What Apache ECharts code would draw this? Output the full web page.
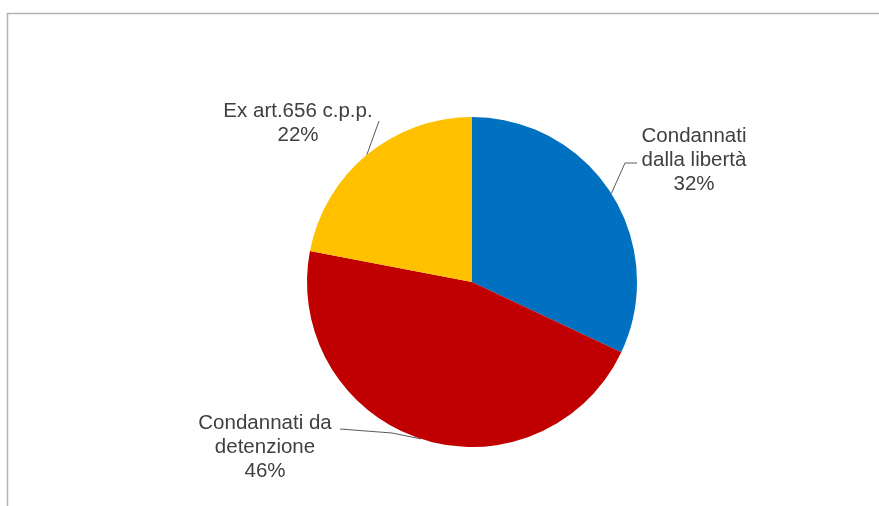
<!DOCTYPE html>
<html>
<head>
<meta charset="utf-8">
<script src="https://cdn.jsdelivr.net/npm/echarts@6/dist/echarts.min.js"></script>
<style>
  html, body { margin: 0; padding: 0; background: #fff; }
  #chart { width: 879px; height: 506px; }
</style>
</head>
<body>
<div id="chart"></div>
<script>
// dati del grafico
var categorie = ['Condannati\ndalla libertà', 'Condannati da\ndetenzione', 'Ex art.656 c.p.p.'];
var percentuali = [32, 46, 22];
var colori = ['#0070C0', '#C00000', '#FFC000'];

// layout: centro delle etichette e punti delle linee guida
var posEtichette = [[694, 160], [265, 447], [298, 123]];
var guide = [
    [[625, 163], [637, 163]],
    [[392, 433], [340, 429]],
    [[379, 121], [379, 121]]
];

var myChart = echarts.init(document.getElementById('chart'));

var dati = categorie.map(function (c, i) {
    return {name: c, value: percentuali[i], itemStyle: {color: colori[i]}};
});

var option = {
    backgroundColor: '#fff',
    animation: false,
    graphic: [
        // cornice (solo bordo superiore e sinistro visibili)
        {type: 'line', shape: {x1: 7, y1: 13.5, x2: 879, y2: 13.5}, style: {stroke: '#b3b3b3', lineWidth: 1.5}},
        {type: 'line', shape: {x1: 7.5, y1: 13, x2: 7.5, y2: 506}, style: {stroke: '#b3b3b3', lineWidth: 1.5}}
    ],
    series: [
        {
            type: 'pie',
            center: [472, 282],
            radius: 165,
            startAngle: 90,
            clockwise: true,
            data: dati,
            label: {
                show: true,
                formatter: function (p) {
                    return p.name + '\n' + p.percent.toFixed(0) + '%';
                },
                color: '#404040',
                fontFamily: 'Liberation Sans, Arial, sans-serif',
                fontSize: 20.5,
                lineHeight: 24,
                align: 'center'
            },
            labelLine: {
                show: true,
                lineStyle: {color: '#595959', width: 1}
            },
            labelLayout: function (params) {
                var i = params.dataIndex;
                var p = posEtichette[i];
                var res = {x: p[0], y: p[1], align: 'center', verticalAlign: 'middle'};
                if (params.labelLinePoints) {
                    res.labelLinePoints = [params.labelLinePoints[0], guide[i][0], guide[i][1]];
                }
                return res;
            },
            emphasis: {disabled: true}
        }
    ]
};

myChart.setOption(option);
</script>
</body>
</html>
